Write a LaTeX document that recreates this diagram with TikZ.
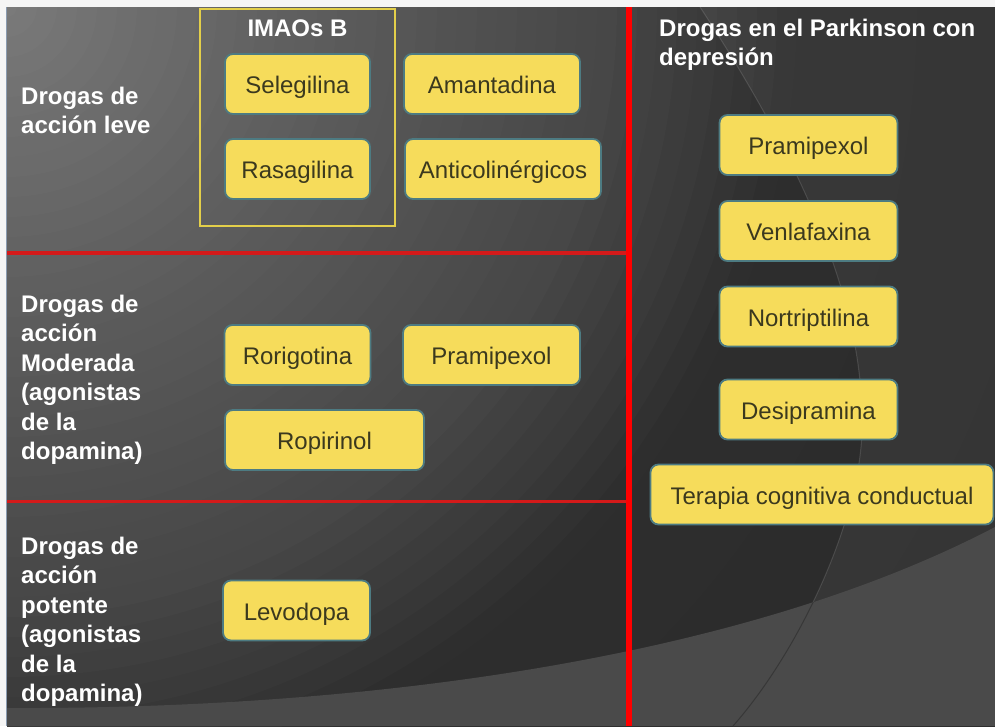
\documentclass[tikz,border=0pt]{standalone}
\usepackage{fontspec}
\setmainfont{Liberation Sans}

\definecolor{lowband}{HTML}{4A4A4A}
\definecolor{boxfill}{HTML}{F6DC5B}
\definecolor{boxline}{HTML}{4D7B82}
\definecolor{boxtext}{HTML}{3B391E}
\definecolor{framegold}{HTML}{E3CF4A}
\definecolor{rule}{HTML}{D41A1A}
\definecolor{edgeblue}{HTML}{8A9BB0}

\begin{document}
\begin{tikzpicture}[x=1pt,y=-1pt,
  drug/.style={draw=boxline, fill=boxfill, line width=1.8pt,
    rounded corners=8pt, text=boxtext, inner sep=0pt,
    font=\fontsize{24}{29}\selectfont,
    minimum height=60pt, text height=21pt, text depth=2pt},
  rowlabel/.style={anchor=north west, inner sep=0pt, align=left,
    text=white, font=\fontsize{24}{29.5}\selectfont\bfseries},
  divider/.style={draw=rule, line width=3.5pt},
  spine/.style={draw=red, line width=6pt}]

\useasboundingbox (0,0) rectangle (995,726);

% page margin and slide background
\fill[white!96!black] (0,0) rectangle (995,726);
\begin{scope}
  \clip (7,7) rectangle (995,726);
  % radial glow from the upper left corner, built from concentric discs
  \foreach \r in {1300,1280,...,0} {
    \pgfmathtruncatemacro\g{\r<300 ? 122-\r/300*28 :
      (\r<450 ? 94-(\r-300)/150*12 :
      (\r<600 ? 82-(\r-450)/150*11 :
      (\r<700 ? 71-(\r-600)/100*13 :
      (\r<780 ? 58-(\r-700)/80*12 : max(42,46-(\r-780)/520*4)))))}
    \definecolor{disc}{RGB}{\g,\g,\g}
    \fill[disc] (7,7) circle[radius=\r+10];
  }
  % lighter field right of the large sweep
  \fill[white, opacity=0.05] (700,7) .. controls (800,160) and (865,300) .. (862,430)
     .. controls (860,520) and (800,650) .. (733,726) -- (995,726) -- (995,7) -- cycle;
  \draw[white, opacity=0.12, line width=1pt] (700,7) .. controls (800,160) and (865,300) .. (862,430)
     .. controls (860,520) and (800,650) .. (733,726);
  % lower band
  \fill[lowband] (0,708) .. controls (400,710) and (760,650) .. (995,527)
     -- (995,726) -- (0,726) -- cycle;
  \begin{scope}
    \clip (0,708) .. controls (400,710) and (760,650) .. (995,527)
       -- (995,726) -- (0,726) -- cycle;
    \draw[black, opacity=0.25, line width=1pt] (862,430)
       .. controls (860,520) and (800,650) .. (733,726);
  \end{scope}
\end{scope}
\draw[edgeblue, line width=1.2pt] (6.6,7) -- (6.6,726);

% section rules
\draw[divider] (7,253) -- (628,253);
\draw[divider] (7,501.5) -- (628,501.5);
\draw[spine] (629,7) -- (629,726);

% row captions
\node[rowlabel] (leve) at (21,86.5) {Drogas de\\acción leve};
\node[rowlabel] (moderada) at (21,294.5) {Drogas de\\acción\\Moderada\\(agonistas\\de la\\dopamina)};
\node[rowlabel] (potente) at (21,536.5) {Drogas de\\acción\\potente\\(agonistas\\de la\\dopamina)};
\node[rowlabel] (depr) at (659,18.5) {Drogas en el Parkinson con\\depresión};

% MAO-B inhibitor group
\draw[framegold, line width=2pt] (199.5,8.5) rectangle (395,226);
\node[anchor=base, inner sep=0pt, text=white, font=\fontsize{24}{29}\selectfont\bfseries]
  (imao) at (297.5,36) {IMAOs B};

% mild-action drugs
\node[drug, minimum width=145pt] (seleg) at (297.5,84) {Selegilina};
\node[drug, minimum width=145pt] (rasag) at (297.5,169) {Rasagilina};
\node[drug, minimum width=176pt] (amant) at (492,84) {Amantadina};
\node[drug, minimum width=196pt] (antic) at (503,169) {Anticolinérgicos};

% moderate-action drugs
\node[drug, minimum width=146pt] (rorig) at (297.5,355) {Rorigotina};
\node[drug, minimum width=177pt] (pramA) at (491.5,355) {Pramipexol};
\node[drug, minimum width=199pt] (ropir) at (324.5,440) {Ropirinol};

% potent-action drug
\node[drug, minimum width=147pt] (levo) at (296.5,610.5) {Levodopa};

% Parkinson with depression
\node[drug, minimum width=178pt] (pramB) at (808.5,145) {Pramipexol};
\node[drug, minimum width=178pt] (venla) at (808.5,231) {Venlafaxina};
\node[drug, minimum width=178pt] (nortr) at (808.5,316.5) {Nortriptilina};
\node[drug, minimum width=178pt] (desip) at (808.5,409.5) {Desipramina};
\node[drug, minimum width=343pt] (tcc) at (822,494.5) {Terapia cognitiva conductual};

\end{tikzpicture}
\end{document}
